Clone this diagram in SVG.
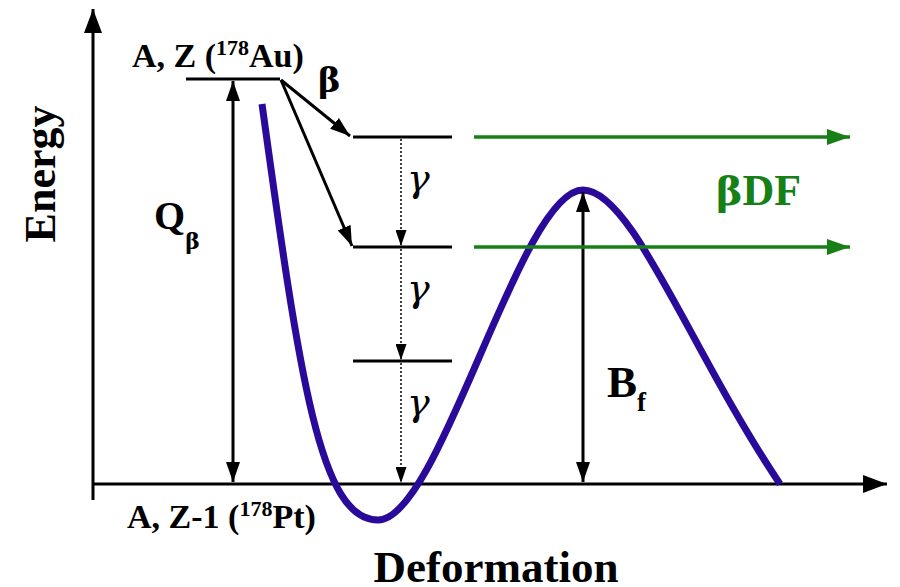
<svg xmlns="http://www.w3.org/2000/svg" width="900" height="587" viewBox="0 0 900 587">
<defs>
<style>
.t{font-family:"Liberation Serif","Times New Roman",serif;font-weight:bold;fill:#000}
.gk{font-family:"DejaVu Serif",serif}
.g{font-family:"DejaVu Serif",serif;font-style:italic;font-size:38px;fill:#000}
.ln{stroke:#000;stroke-width:3;fill:none}
.thin{stroke:#000;stroke-width:3;fill:none}
.dot{stroke:#000;stroke-width:1.5;stroke-dasharray:2,2;fill:none}
.grn{stroke:#168016;stroke-width:3.5;fill:none}
</style>
<marker id="big" markerUnits="userSpaceOnUse" markerWidth="24" markerHeight="18" refX="24" refY="9" orient="auto-start-reverse"><path d="M0,0 L24,9 L0,18 Z" fill="#000"/></marker>
<marker id="mid" markerUnits="userSpaceOnUse" markerWidth="20" markerHeight="14" refX="20" refY="7" orient="auto-start-reverse"><path d="M0,0 L20,7 L0,14 Z" fill="#000"/></marker>
<marker id="sm" markerUnits="userSpaceOnUse" markerWidth="16" markerHeight="11" refX="16" refY="5.5" orient="auto"><path d="M0,0 L16,5.5 L0,11 Z" fill="#000"/></marker>
<marker id="gr" markerUnits="userSpaceOnUse" markerWidth="23" markerHeight="16" refX="23" refY="8" orient="auto"><path d="M0,0 L23,8 L0,16 Z" fill="#168016"/></marker>
</defs>

<g id="axes">
<line class="ln" x1="93" y1="500" x2="93" y2="9" marker-end="url(#big)"/>
<line class="ln" x1="93" y1="484" x2="887" y2="484" marker-end="url(#big)"/>
<text class="t" font-size="44" transform="translate(55,174) rotate(-90)" text-anchor="middle">Energy</text>
<text class="t" font-size="45" x="496" y="582" text-anchor="middle">Deformation</text>
</g>

<g id="curve">
<path d="M262,104 C300,380 320,520 378,520 C440,520 520,190 583,190 C632,190 690,350 780,484" stroke="#2a0a9a" stroke-width="7" fill="none"/>
</g>

<g id="levels">
<line class="ln" x1="186" y1="79" x2="280" y2="79"/>
<line class="ln" x1="353" y1="137" x2="452" y2="137"/>
<line class="ln" x1="353" y1="247" x2="452" y2="247"/>
<line class="ln" x1="353" y1="361" x2="452" y2="361"/>
</g>

<g id="labels">
<text class="t" font-size="34" x="132" y="67">A, Z (<tspan font-size="22" dy="-12">178</tspan><tspan dy="12">Au)</tspan></text>
<text class="t" font-size="34" x="127" y="528">A, Z-1 (<tspan font-size="22" dy="-12">178</tspan><tspan dy="12">Pt)</tspan></text>
<text class="t gk" font-size="34" x="318" y="92">β</text>
<text class="t" font-size="40" x="154" y="229">Q<tspan class="gk" font-size="22" dy="20">β</tspan></text>
<text class="t" font-size="45" x="607" y="397">B<tspan font-size="27" dy="14">f</tspan></text>
<text class="t" font-size="44" x="716" y="205" style="fill:#168016"><tspan class="gk" font-size="40">β</tspan>DF</text>
<text class="g" x="407" y="191">γ</text>
<text class="g" x="407" y="301">γ</text>
<text class="g" x="407" y="415">γ</text>
</g>

<g id="connectors">
<line class="thin" x1="233" y1="81" x2="233" y2="482" marker-start="url(#mid)" marker-end="url(#mid)"/>
<line class="thin" x1="583" y1="192" x2="583" y2="482" marker-start="url(#mid)" marker-end="url(#mid)"/>
<line class="thin" x1="281" y1="80" x2="350" y2="136" marker-end="url(#mid)"/>
<line class="thin" x1="281" y1="80" x2="352" y2="246" marker-end="url(#mid)"/>
<line class="dot" x1="401" y1="139" x2="401" y2="246" marker-end="url(#sm)"/>
<line class="dot" x1="401" y1="249" x2="401" y2="360" marker-end="url(#sm)"/>
<line class="dot" x1="401" y1="363" x2="401" y2="483" marker-end="url(#sm)"/>
<line class="grn" x1="474" y1="137" x2="850" y2="137" marker-end="url(#gr)"/>
<line class="grn" x1="474" y1="247" x2="850" y2="247" marker-end="url(#gr)"/>
</g>
</svg>
